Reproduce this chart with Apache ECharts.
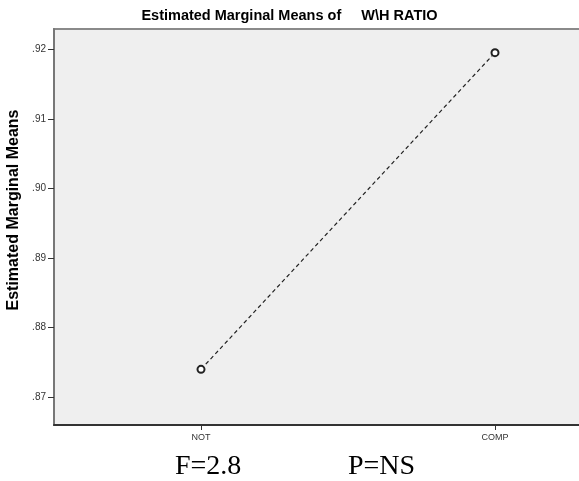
<!DOCTYPE html>
<html>
<head>
<meta charset="utf-8">
<script src="https://cdn.jsdelivr.net/npm/echarts@6/dist/echarts.min.js"></script>
<style>
  html, body { margin: 0; padding: 0; background: #ffffff; }
  #chart { width: 579px; height: 481px; }
</style>
</head>
<body>
<div id="chart"></div>
<script>
// Group levels on the horizontal axis
const categories = ['NOT', 'COMP'];
// Estimated marginal means of the W\H ratio per group
const meanValues = [0.874, 0.9195];
// Labelled ticks on the vertical axis
const yTicks = [0.87, 0.88, 0.89, 0.90, 0.91, 0.92];
// Test statistics printed under the plot
const statsNotes = ['F=2.8', 'P=NS'];

const chart = echarts.init(document.getElementById('chart'), null, { renderer: 'canvas' });

const sansFont = 'Arial, "Liberation Sans", sans-serif';

chart.setOption({
  animation: false,
  backgroundColor: '#ffffff',
  title: {
    text: 'Estimated Marginal Means of     W\\H RATIO',
    left: 'center',
    top: 3,
    textStyle: { fontFamily: sansFont, fontSize: 14.5, fontWeight: 'bold', color: '#000' }
  },
  grid: {
    left: 54,
    top: 29,
    bottom: 56,
    right: -63,
    containLabel: false,
    outerBoundsMode: 'none',
    show: true,
    backgroundColor: '#efefef',
    borderColor: '#8a8a8a',
    borderWidth: 2
  },
  xAxis: {
    type: 'category',
    data: categories,
    boundaryGap: true,
    axisLine: { show: true, lineStyle: { color: '#333', width: 2 } },
    axisTick: { show: true, alignWithLabel: true, length: 5, lineStyle: { color: '#333' } },
    axisLabel: { fontFamily: sansFont, fontSize: 9, color: '#333', margin: 8 },
    splitLine: { show: false }
  },
  yAxis: {
    type: 'value',
    min: 0.866,
    max: 0.9229,
    name: 'Estimated Marginal Means',
    nameLocation: 'middle',
    nameGap: 27,
    nameTextStyle: {
      fontFamily: sansFont,
      fontSize: 16,
      fontWeight: 'bold',
      color: '#000',
      padding: [0, 0, 0, 34]
    },
    axisLine: { show: true, lineStyle: { color: '#777', width: 2 } },
    axisTick: { show: true, length: 6, customValues: yTicks, lineStyle: { color: '#333' } },
    axisLabel: {
      fontFamily: sansFont,
      fontSize: 10,
      color: '#333',
      margin: 8,
      customValues: yTicks,
      formatter: v => v.toFixed(2).replace(/^0/, '')
    },
    splitLine: { show: false }
  },
  series: [{
    type: 'line',
    data: meanValues,
    symbol: 'emptyCircle',
    symbolSize: 7,
    itemStyle: { color: '#222', borderColor: '#222', borderWidth: 1 },
    lineStyle: { color: '#222', width: 1.2, type: [4, 3] }
  }],
  graphic: [
    {
      type: 'text',
      left: 175,
      top: 453,
      style: { text: statsNotes[0], font: '28px "Liberation Serif", "Times New Roman", serif', fill: '#000' }
    },
    {
      type: 'text',
      left: 348,
      top: 453,
      style: { text: statsNotes[1], font: '28px "Liberation Serif", "Times New Roman", serif', fill: '#000' }
    }
  ]
});
</script>
</body>
</html>
